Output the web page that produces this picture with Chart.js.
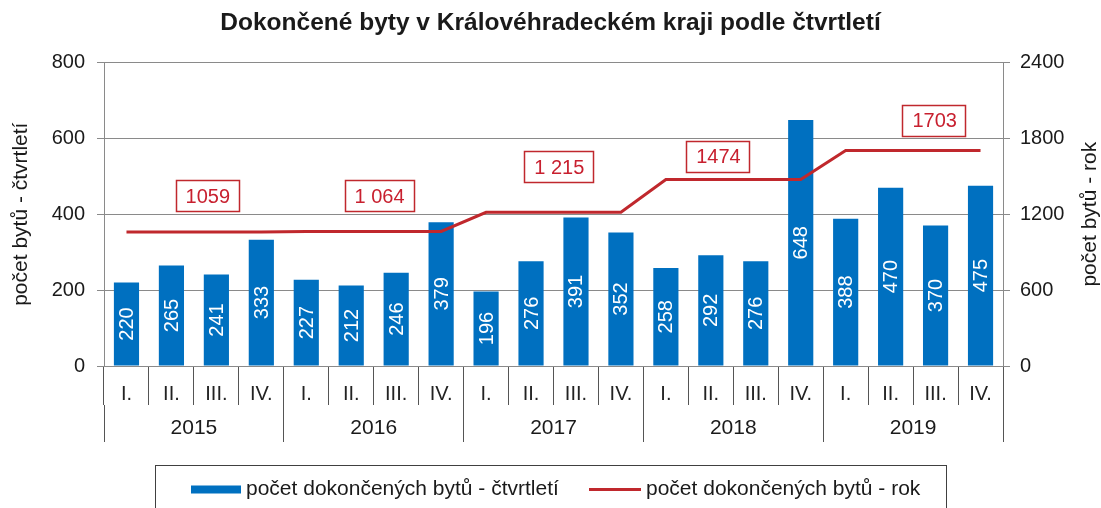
<!DOCTYPE html>
<html>
<head>
<meta charset="utf-8">
<script src="https://cdn.jsdelivr.net/npm/chart.js@4.4.1/dist/chart.umd.min.js"></script>
<style>
html,body{margin:0;padding:0;background:#fff;}
#wrap{width:1101px;height:508px;}
</style>
</head>
<body>
<div id="wrap"><canvas id="c" width="1101" height="508"></canvas></div>
<script>
// ---- DATA ----
const quarterLabels = ['I.','II.','III.','IV.','I.','II.','III.','IV.','I.','II.','III.','IV.','I.','II.','III.','IV.','I.','II.','III.','IV.'];
const yearLabels = ['2015','2016','2017','2018','2019'];
const quarterlyValues = [220,265,241,333,227,212,246,379,196,276,391,352,258,292,276,648,388,470,370,475];
const annualValues = [1059,1059,1059,1059,1064,1064,1064,1064,1215,1215,1215,1215,1474,1474,1474,1474,1703,1703,1703,1703];
const annualLabelTexts = ['1059','1 064','1 215','1474','1703'];
const leftTickValues = [0,200,400,600,800];
const rightTickValues = [0,600,1200,1800,2400];
const seriesNames = ['počet dokončených bytů - čtvrtletí','počet dokončených bytů - rok'];
const titleText = 'Dokončené byty v Královéhradeckém kraji podle čtvrtletí';
const leftAxisTitle = 'počet bytů - čtvrtletí';
const rightAxisTitle = 'počet bytů - rok';

// ---- STYLE / LAYOUT ----
const FONT = '"Liberation Sans", Arial, Helvetica, sans-serif';
const BLUE = '#0070C0';
const RED = '#C0282D';
const GRID = '#8a8a8a';
const SEP = '#555555';
const TEXT = '#1a1a1a';
const annualBoxLayout = { anchor: [1.81, 5.63, 9.63, 13.17, 17.98], dy: [-36, -35, -45, -23, -30], height: 32, padX: 10 };

Chart.defaults.font.family = FONT;
Chart.defaults.color = TEXT;

const barLabelPlugin = {
  id: 'barLabels',
  afterDatasetsDraw(chart) {
    const ctx = chart.ctx;
    const meta = chart.getDatasetMeta(0);
    ctx.save();
    ctx.fillStyle = '#ffffff';
    ctx.font = '20px ' + FONT;
    ctx.textAlign = 'center';
    ctx.textBaseline = 'middle';
    meta.data.forEach((bar, i) => {
      const cy = (bar.y + bar.base) / 2;
      ctx.save();
      ctx.translate(bar.x, cy);
      ctx.rotate(-Math.PI / 2);
      ctx.fillText(String(quarterlyValues[i]), 0, 1);
      ctx.restore();
    });
    ctx.restore();
  }
};

const annualBoxPlugin = {
  id: 'annualBoxes',
  afterDatasetsDraw(chart) {
    const ctx = chart.ctx;
    const xs = chart.scales.x, ys = chart.scales.y1;
    const step = xs.getPixelForValue(1) - xs.getPixelForValue(0);
    ctx.save();
    ctx.font = '20px ' + FONT;
    ctx.textAlign = 'center';
    ctx.textBaseline = 'middle';
    annualLabelTexts.forEach((t, k) => {
      const a = annualBoxLayout.anchor[k];
      const fi = Math.floor(a);
      const cx = xs.getPixelForValue(fi) + (a - fi) * step;
      const cy = ys.getPixelForValue(annualValues[k * 4]) + annualBoxLayout.dy[k];
      const w = ctx.measureText(t).width + annualBoxLayout.padX * 2;
      const h = annualBoxLayout.height;
      ctx.fillStyle = '#ffffff';
      ctx.fillRect(Math.round(cx - w / 2), Math.round(cy - h / 2), Math.round(w), h);
      ctx.strokeStyle = RED;
      ctx.lineWidth = 1.5;
      ctx.strokeRect(Math.round(cx - w / 2) + 0.5, Math.round(cy - h / 2) + 0.5, Math.round(w) - 1, h - 1);
      ctx.fillStyle = '#C8202F';
      ctx.fillText(t, cx, cy + 1);
    });
    ctx.restore();
  }
};

const extrasPlugin = {
  id: 'extras',
  afterDraw(chart) {
    const ctx = chart.ctx;
    const ca = chart.chartArea;
    ctx.save();
    // right axis title (reads bottom-to-top)
    ctx.fillStyle = TEXT;
    ctx.font = '21px ' + FONT;
    ctx.textAlign = 'center';
    ctx.textBaseline = 'middle';
    ctx.translate(chart.width - 11, (ca.top + ca.bottom) / 2);
    ctx.rotate(-Math.PI / 2);
    ctx.fillText(rightAxisTitle, 0, 0);
    ctx.restore();

    // legend
    ctx.save();
    const boxW = 791;
    const lx = Math.round(chart.width / 2 - boxW / 2) + 0.5;
    const ly = chart.scales.x2.bottom + 23.5;
    ctx.strokeStyle = '#404040';
    ctx.lineWidth = 1;
    ctx.strokeRect(lx, ly, boxW, 60);
    const my = ly + 24;
    ctx.font = '21px ' + FONT;
    ctx.textBaseline = 'middle';
    ctx.textAlign = 'left';
    ctx.fillStyle = BLUE;
    ctx.fillRect(lx + 35.5, my - 4, 50, 8);
    ctx.fillStyle = TEXT;
    ctx.fillText(seriesNames[0], lx + 90.5, my);
    ctx.strokeStyle = RED;
    ctx.lineWidth = 3;
    ctx.beginPath();
    ctx.moveTo(lx + 433.5, my);
    ctx.lineTo(lx + 485.5, my);
    ctx.stroke();
    ctx.fillStyle = TEXT;
    ctx.fillText(seriesNames[1], lx + 490.5, my);
    ctx.restore();
  }
};

new Chart(document.getElementById('c'), {
  type: 'bar',
  data: {
    labels: quarterLabels,
    datasets: [
      {
        type: 'bar',
        label: seriesNames[0],
        data: quarterlyValues,
        backgroundColor: BLUE,
        xAxisID: 'x',
        yAxisID: 'y',
        categoryPercentage: 1.0,
        barPercentage: 0.56,
        order: 2
      },
      {
        type: 'line',
        label: seriesNames[1],
        data: annualValues,
        borderColor: RED,
        borderWidth: 3,
        pointRadius: 0,
        tension: 0,
        fill: false,
        xAxisID: 'x',
        yAxisID: 'y1',
        order: 1
      }
    ]
  },
  options: {
    responsive: false,
    animation: false,
    devicePixelRatio: 1,
    layout: { padding: { left: 0, right: 0, top: 0, bottom: 66 } },
    plugins: {
      legend: { display: false },
      tooltip: { enabled: false },
      title: {
        display: true,
        text: titleText,
        color: TEXT,
        font: { size: 24.5, weight: 'bold', family: FONT },
        padding: { top: 9, bottom: 24 }
      }
    },
    scales: {
      x: {
        type: 'category',
        position: 'bottom',
        weight: 0,
        offset: true,
        grid: { display: true, drawOnChartArea: false, drawTicks: true, tickLength: 39, color: SEP, offset: true },
        border: { display: true, color: GRID },
        ticks: { font: { size: 20 }, color: '#222', padding: -23, maxRotation: 0, autoSkip: false },
        afterFit(s) { s.height = 39; }
      },
      x2: {
        type: 'category',
        position: 'bottom',
        weight: 1,
        labels: yearLabels,
        offset: true,
        grid: { display: true, drawOnChartArea: false, drawTicks: true, tickLength: 37, color: SEP, offset: true },
        border: { display: false },
        ticks: { font: { size: 21 }, color: TEXT, padding: -26, maxRotation: 0, autoSkip: false },
        afterFit(s) { s.height = 37; }
      },
      y: {
        position: 'left',
        min: 0,
        max: 800,
        afterBuildTicks(s) { s.ticks = leftTickValues.map(v => ({ value: v })); },
        grid: { color: GRID, tickLength: 7, drawTicks: true },
        border: { display: true, color: GRID },
        ticks: { font: { size: 20 }, color: TEXT, padding: 12, callback: v => String(v) },
        title: { display: true, text: leftAxisTitle, font: { size: 21 }, color: TEXT, padding: { top: 9, bottom: 0 } },
        afterFit(s) { s.width = 104; }
      },
      y1: {
        position: 'right',
        min: 0,
        max: 2400,
        afterBuildTicks(s) { s.ticks = rightTickValues.map(v => ({ value: v })); },
        grid: { drawOnChartArea: false, color: GRID, tickLength: 7, drawTicks: true },
        border: { display: true, color: GRID },
        ticks: { font: { size: 20 }, color: TEXT, padding: 10, callback: v => String(v) },
        afterFit(s) { s.width = 98; }
      }
    }
  },
  plugins: [barLabelPlugin, annualBoxPlugin, extrasPlugin]
});
</script>
</body>
</html>
